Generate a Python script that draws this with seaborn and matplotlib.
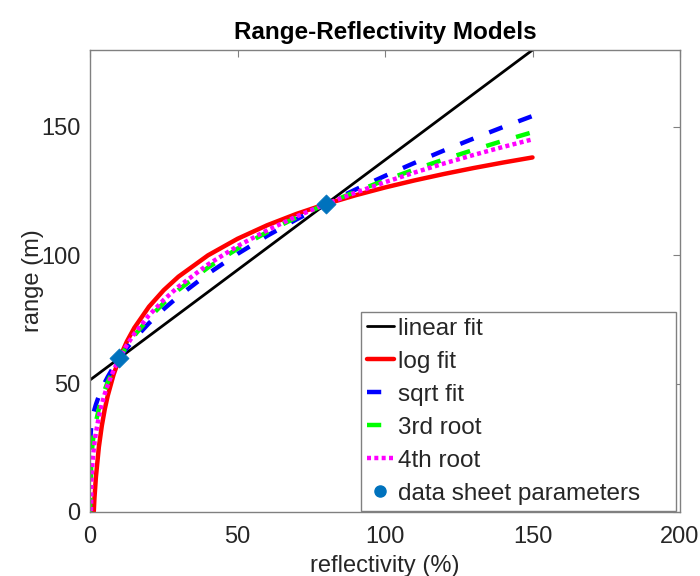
import matplotlib
matplotlib.use("Agg")
import matplotlib.pyplot as plt
import seaborn as sns
import numpy as np
import pandas as pd
from matplotlib.lines import Line2D

# ---- data ----
reflectivity = [0, 0.5, 1, 1.5, 2, 3, 4, 5, 6, 8, 10, 12.5, 15, 20, 25, 30, 40, 50,
                60, 70, 80, 90, 100, 110, 120, 130, 140, 150]
linear_fit = [51.43, 51.86, 52.29, 52.71, 53.14, 54.00, 54.86, 55.71, 56.57, 58.29, 60.00,
              62.14, 64.29, 68.57, 72.86, 77.14, 85.71, 94.29, 102.86, 111.43, 120.00,
              128.57, 137.14, 145.71, 154.29, 162.86, 171.43, 180.00]
log_fit = [np.nan, -26.44, -6.44, 5.26, 13.56, 25.26, 33.56, 40.00, 45.26, 53.56, 60.00,
           66.44, 71.70, 80.00, 86.44, 91.70, 100.00, 106.44, 111.70, 116.15, 120.00,
           123.40, 126.44, 129.19, 131.70, 134.01, 136.15, 138.14]
sqrt_fit = [27.18, 34.52, 37.56, 39.89, 41.86, 45.16, 47.94, 50.39, 52.60, 56.54, 60.00,
            63.87, 67.37, 73.59, 79.07, 84.02, 92.82, 100.56, 107.57, 114.01, 120.00,
            125.63, 130.96, 136.02, 140.86, 145.50, 149.97, 154.28]
third_root = [0.00, 22.10, 27.85, 31.88, 35.09, 40.17, 44.21, 47.62, 50.61, 55.70, 60.00,
              64.63, 68.68, 75.60, 81.43, 86.53, 95.24, 102.60, 109.03, 114.78, 120.00,
              124.81, 129.27, 133.44, 137.37, 141.08, 144.61, 147.97]
fourth_root = [-28.00, 13.61, 21.48, 26.76, 30.85, 37.13, 41.98, 46.00, 49.45, 55.22, 60.00,
               65.05, 69.39, 76.65, 82.65, 87.82, 96.45, 103.59, 109.73, 115.14, 120.00,
               124.42, 128.49, 132.26, 135.79, 139.10, 142.23, 145.19]
sheet_reflectivity = [10, 80]
sheet_range = [60, 120]

labels = ["linear fit", "log fit", "sqrt fit", "3rd root", "4th root"]
series = [linear_fit, log_fit, sqrt_fit, third_root, fourth_root]
colors = ["#000000", "#FF0000", "#0000FF", "#00FF00", "#FF00FF"]
widths = [2.0, 3.2, 3.2, 3.2, 3.2]
dashes = [None, None, (3.2, 3.8), (3.2, 3.8), (0.9, 0.75)]

sns.set_theme(style="white")
plt.rcParams["font.family"] = ["Liberation Sans", "DejaVu Sans"]

fig = plt.figure(figsize=(7.0, 5.76), dpi=100)
ax = fig.add_axes([90 / 700, 64 / 576, 590 / 700, 462 / 576])

df = pd.DataFrame({"reflectivity": reflectivity})
handles = []
for lab, ys, c, w, d in zip(labels, series, colors, widths, dashes):
    df[lab] = ys
    sns.lineplot(data=df, x="reflectivity", y=lab, ax=ax, color=c, linewidth=w,
                 estimator=None, sort=False)
    ln = ax.lines[-1]
    if d is not None:
        ln.set_dashes(d)
        ln.set_dash_capstyle("butt")
    handles.append(ln)

pts = pd.DataFrame({"reflectivity": sheet_reflectivity, "range": sheet_range})
sns.scatterplot(data=pts, x="reflectivity", y="range", ax=ax, marker="D", s=95,
                color="#0072BD", edgecolor="#0072BD", linewidth=0.5, zorder=5)
hpts = Line2D([], [], marker="o", linestyle="none", color="#0072BD", markersize=8)

ax.set_xlim(0, 200)
ax.set_ylim(0, 180)
ax.set_xticks([0, 50, 100, 150, 200])
ax.set_yticks([0, 50, 100, 150])

txtc = "#262626"
for s in ax.spines.values():
    s.set_color("#808080")
    s.set_linewidth(1.0)
ax.tick_params(direction="in", length=5, width=0.8, color="#808080", labelsize=17,
               labelcolor=txtc, top=True, right=True)
ax.tick_params(axis="x", pad=10)
ax.tick_params(axis="y", pad=7)
ax.set_xlabel("reflectivity (%)", fontsize=17, color=txtc, labelpad=5)
ax.set_ylabel("range (m)", fontsize=17, color=txtc, labelpad=-2)
ax.set_title("Range-Reflectivity Models", fontsize=17.5, fontweight="bold", color="black", pad=8)

leg = ax.legend(handles + [hpts], labels + ["data sheet parameters"], loc="lower left",
                bbox_to_anchor=(0.459, 0.003, 0.534, 0.43), mode="expand",
                fontsize=17.5, frameon=True, fancybox=False, framealpha=1,
                edgecolor="#808080", borderaxespad=0.0, handlelength=1.1,
                handletextpad=0.2, labelspacing=0.45, borderpad=0.25)
leg.get_frame().set_linewidth(1.0)

fig.savefig("out.png", dpi=100)
